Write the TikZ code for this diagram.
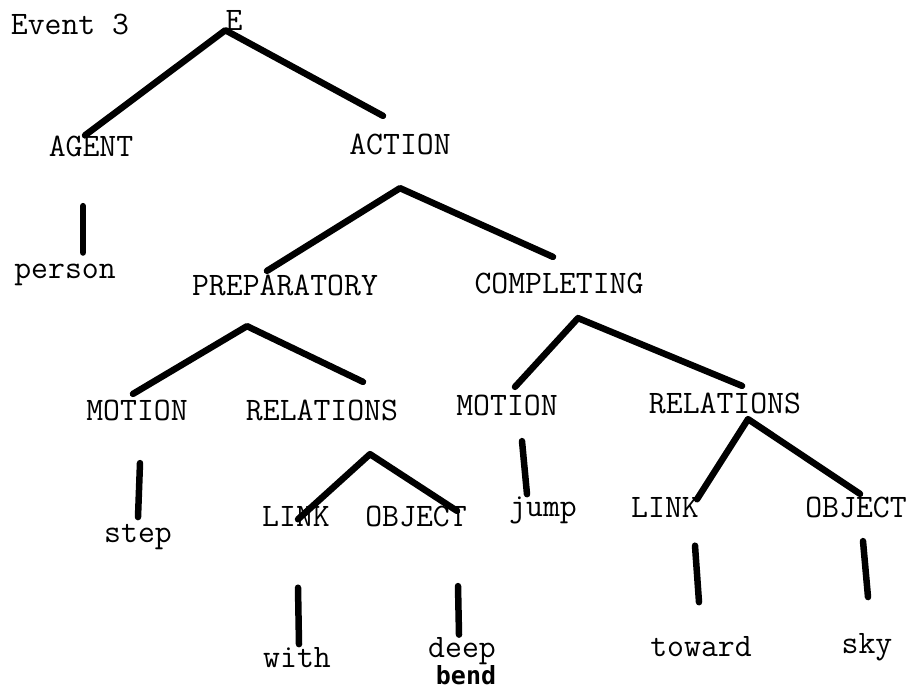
\documentclass[tikz,border=0pt]{standalone}
\usepackage{fontspec}
\newfontfamily\bendfont{DejaVu Sans Mono}
\usetikzlibrary{positioning}

\begin{document}
\begin{tikzpicture}[x=1pt,y=-1pt,
   word/.style={inner sep=0pt, font=\ttfamily\fontsize{32.8}{38}\selectfont},
   branch/.style={line width=6.5pt, line cap=round, line join=round}]
   \useasboundingbox (0,0) rectangle (915,692);

   \node[word] (event) at (70,24) {Event 3};
   \node[word] (e) at (234,20) {E};
   \node[word] (agent) at (91,146) {AGENT};
   \node[word] (action) at (400,144) {ACTION};
   \node[word] (person) at (65,275) {person};
   \node[word] (prep) at (285,285) {PREPARATORY};
   \node[word] (compl) at (559,283) {COMPLETING};
   \node[word] (motA) at (137,410) {MOTION};
   \node[word] (relA) at (322,410) {RELATIONS};
   \node[word] (motB) at (507,405) {MOTION};
   \node[word] (relB) at (725,403) {RELATIONS};
   \node[word] (step) at (138,537) {step};
   \node[word] (linkA) at (296,516) {LINK};
   \node[word] (objA) at (416,516) {OBJECT};
   \node[word] (jump) at (543,510) {jump};
   \node[word] (linkB) at (665,507) {LINK};
   \node[word] (objB) at (856,507) {OBJECT};
   \node[word] (with) at (297,658) {with};
   \node[word] (deep) at (462,651) {deep};
   \node[inner sep=0pt, font=\bendfont\bfseries\fontsize{25}{30}\selectfont]
      (bend) at (466,675) {bend};
   \node[word] (toward) at (701,647) {toward};
   \node[word] (sky) at (867,647) {sky};

   \coordinate (e-fork) at (e.south west);
   \coordinate[below=33.5pt of action] (action-fork);
   \coordinate (prep-fork) at ([shift={(-38pt,-30.5pt)}]prep.south);
   \coordinate (compl-fork) at ([shift={(19pt,-24.5pt)}]compl.south);
   \coordinate (relA-fork) at ([shift={(48pt,-33.5pt)}]relA.south);
   \coordinate (relB-fork) at ([shift={(23pt,-5.5pt)}]relB.south);

   \draw[branch] ([xshift=-6pt]agent.north) -- (e-fork)
      -- ([shift={(-17pt,17.5pt)}]action.north);
   \draw[branch] ([shift={(-18pt,3.5pt)}]prep.north) -- (action-fork)
      -- ([shift={(-6pt,15.5pt)}]compl.north);
   \draw[branch] ([shift={(-4pt,5.5pt)}]motA.north) -- (prep-fork)
      -- ([shift={(41pt,17.5pt)}]relA.north);
   \draw[branch] ([shift={(8pt,7.5pt)}]motB.north) -- (compl-fork)
      -- ([shift={(17pt,6.5pt)}]relB.north);
   \draw[branch] ([shift={(2pt,-13.5pt)}]linkA.north) -- (relA-fork)
      -- ([shift={(41pt,-5.5pt)}]objA.north);
   \draw[branch] ([shift={(32pt,-2.5pt)}]linkB.north) -- (relB-fork)
      -- ([shift={(4pt,2.5pt)}]objB.north);

   \draw[branch] ([shift={(-8pt,-49.5pt)}]agent.south) -- ([shift={(18pt,11.4pt)}]person.north);
   \draw[branch] ([shift={(3pt,-42.5pt)}]motA.south) -- ([yshift=7pt]step.north);
   \draw[branch] ([shift={(15pt,-25.5pt)}]motB.south) -- ([shift={(-16pt,2pt)}]jump.north);
   \draw[branch] ([shift={(2pt,-61.5pt)}]linkA.south) -- ([shift={(2pt,3.5pt)}]with.north);
   \draw[branch] ([shift={(42pt,-59.5pt)}]objA.south) -- ([shift={(-3pt,2.5pt)}]deep.north);
   \draw[branch] ([shift={(30pt,-28.5pt)}]linkB.south) -- ([shift={(-2pt,34.5pt)}]toward.north);
   \draw[branch] ([shift={(7pt,-23.5pt)}]objB.south) -- ([shift={(1pt,36pt)}]sky.north);
\end{tikzpicture}
\end{document}
